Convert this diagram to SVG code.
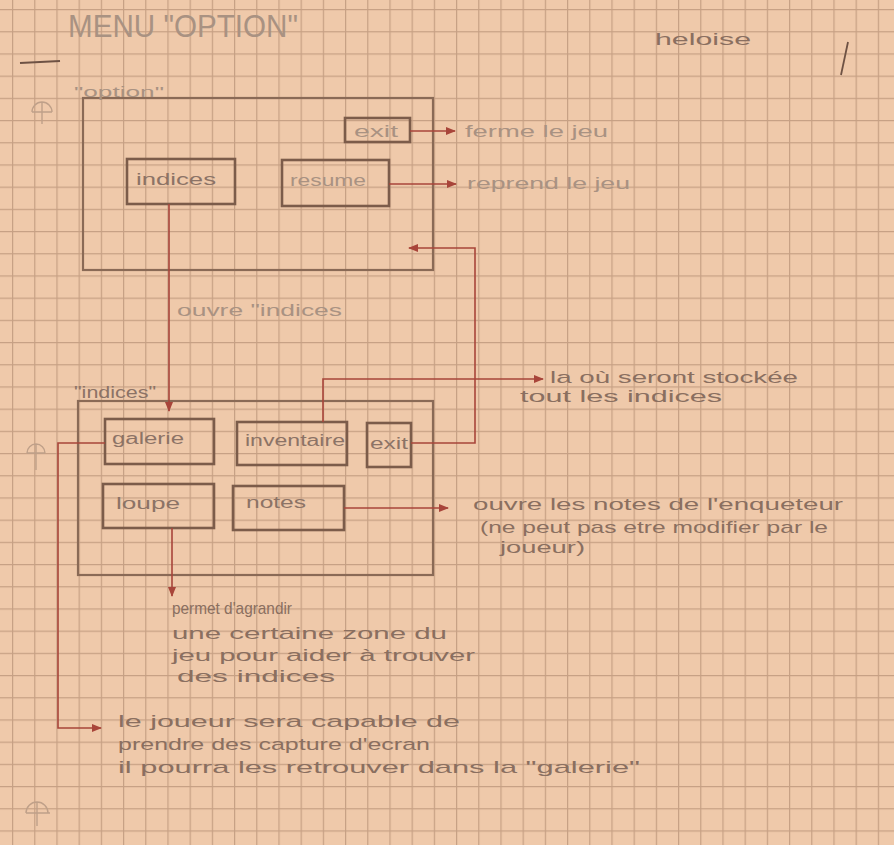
<svg xmlns="http://www.w3.org/2000/svg" width="894" height="845" viewBox="0 0 894 845">
  <defs>
    <pattern id="grid" x="12" y="9" width="22.2" height="22.2" patternUnits="userSpaceOnUse">
      <path d="M0 0.6H22.2M0.6 0V22.2" stroke="#c6a084" stroke-width="1.2" fill="none"/>
    </pattern>
    <marker id="arr" viewBox="0 0 10 10" refX="9" refY="5" markerWidth="10" markerHeight="10" markerUnits="userSpaceOnUse" orient="auto">
      <path d="M0 1L10 5L0 9Z" fill="#a8453a"/>
    </marker>
    <style>
      .box{fill:none;stroke:#7c5c4a;stroke-width:2.6}
      .frame{fill:none;stroke:#8a6a56;stroke-width:2.2}
      .lbl{font-family:"Liberation Sans",Arial,sans-serif;font-size:16px;fill:#8c7366}
      .note{font-family:"Liberation Sans",Arial,sans-serif;font-size:17px;fill:#8a6f60}
      .light{font-family:"Liberation Sans",Arial,sans-serif;fill:#a99282}
      .wire{fill:none;stroke:#a8453a;stroke-width:1.6}
      .hole{fill:none;stroke:#bfa089;stroke-width:1.4}
    </style>
  </defs>

  <rect width="894" height="845" fill="#efc9aa"/>
  <rect width="894" height="845" fill="url(#grid)"/>

  <!-- page marks -->
  <g id="marks">
    <path class="hole" d="M32 112A10 10 0 0 1 52 112M42 102V124M32 112H52"/>
    <path class="hole" d="M27 453A9 9 0 0 1 45 453M36 444V470M27 453H45"/>
    <path class="hole" d="M26 813A11 11 0 0 1 48 813M37 802V826M26 813H50"/>
    <line x1="20" y1="63" x2="60" y2="61" stroke="#6e5244" stroke-width="2"/>
    <line x1="848" y1="42" x2="841" y2="75" stroke="#6e5244" stroke-width="1.8"/>
  </g>

  <!-- title -->
  <g id="title">
    <text class="light" x="68" y="37" font-size="31" textLength="230" lengthAdjust="spacingAndGlyphs">MENU "OPTION"</text>
    <text class="note" x="655" y="45" textLength="96" lengthAdjust="spacingAndGlyphs">heloise</text>
  </g>

  <!-- option frame -->
  <g id="option">
    <rect class="frame" x="83" y="98" width="350" height="172" stroke="#a08472"/>
    <text class="light" x="74" y="97" font-size="15" textLength="90" lengthAdjust="spacingAndGlyphs">"option"</text>
  </g>
  <g id="option-exit">
    <rect class="box" x="345" y="118" width="65" height="24" stroke="#8a6a58"/>
    <text class="light" x="354" y="137" font-size="16" textLength="44" lengthAdjust="spacingAndGlyphs">exit</text>
  </g>
  <g id="option-indices">
    <rect class="box" x="127" y="159" width="108" height="45"/>
    <text class="lbl" x="136" y="185" textLength="80" lengthAdjust="spacingAndGlyphs">indices</text>
  </g>
  <g id="option-resume">
    <rect class="box" x="282" y="160" width="107" height="46"/>
    <text class="light" x="290" y="186" font-size="16" textLength="76" lengthAdjust="spacingAndGlyphs">resume</text>
  </g>

  <!-- indices frame -->
  <g id="indices">
    <rect class="frame" x="78" y="401" width="355" height="174"/>
    <text class="lbl" x="74" y="398" font-size="15" textLength="82" lengthAdjust="spacingAndGlyphs">"indices"</text>
  </g>
  <g id="galerie">
    <rect class="box" x="105" y="419" width="109" height="45"/>
    <text class="lbl" x="112" y="444" textLength="72" lengthAdjust="spacingAndGlyphs">galerie</text>
  </g>
  <g id="inventaire">
    <rect class="box" x="237" y="422" width="110" height="43"/>
    <text class="lbl" x="245" y="446" textLength="100" lengthAdjust="spacingAndGlyphs">inventaire</text>
  </g>
  <g id="indices-exit">
    <rect class="box" x="367" y="423" width="44" height="44"/>
    <text class="lbl" x="370" y="449" font-size="14" textLength="38" lengthAdjust="spacingAndGlyphs">exit</text>
  </g>
  <g id="loupe">
    <rect class="box" x="103" y="484" width="111" height="44"/>
    <text class="lbl" x="116" y="509" textLength="64" lengthAdjust="spacingAndGlyphs">loupe</text>
  </g>
  <g id="notes">
    <rect class="box" x="233" y="486" width="111" height="44"/>
    <text class="lbl" x="246" y="508" textLength="60" lengthAdjust="spacingAndGlyphs">notes</text>
  </g>

  <!-- connectors -->
  <g id="connectors">
    <path class="wire" d="M410 131H455" marker-end="url(#arr)"/>
    <path class="wire" d="M389 184H456" marker-end="url(#arr)"/>
    <path class="wire" d="M169 204V411" marker-end="url(#arr)"/>
    <path class="wire" d="M323 422V379H543" marker-end="url(#arr)"/>
    <path class="wire" d="M411 443H475V248H409" marker-end="url(#arr)"/>
    <path class="wire" d="M344 508H448" marker-end="url(#arr)"/>
    <path class="wire" d="M172 528V596" marker-end="url(#arr)"/>
    <path class="wire" d="M105 443H58V728H101" marker-end="url(#arr)"/>
  </g>

  <!-- annotations -->
  <g id="annotations">
    <text class="light" x="465" y="137" font-size="17" textLength="143" lengthAdjust="spacingAndGlyphs">ferme le jeu</text>
    <text class="light" x="467" y="189" font-size="17" textLength="163" lengthAdjust="spacingAndGlyphs">reprend le jeu</text>
    <text class="light" x="177" y="316" font-size="16" textLength="165" lengthAdjust="spacingAndGlyphs">ouvre "indices</text>
    <text class="note" x="550" y="383" textLength="248" lengthAdjust="spacingAndGlyphs">la où seront stockée</text>
    <text class="note" x="520" y="402" textLength="202" lengthAdjust="spacingAndGlyphs">tout les indices</text>
    <text class="note" x="473" y="510" textLength="370" lengthAdjust="spacingAndGlyphs">ouvre les notes de l'enqueteur</text>
    <text class="note" x="480" y="533" textLength="348" lengthAdjust="spacingAndGlyphs">(ne peut pas etre modifier par le</text>
    <text class="note" x="500" y="553" textLength="85" lengthAdjust="spacingAndGlyphs">joueur)</text>
    <text class="note" x="172" y="614" textLength="120" lengthAdjust="spacingAndGlyphs">permet d'agrandir</text>
    <text class="note" x="172" y="639" textLength="275" lengthAdjust="spacingAndGlyphs">une certaine zone du</text>
    <text class="note" x="172" y="661" textLength="303" lengthAdjust="spacingAndGlyphs">jeu pour aider à trouver</text>
    <text class="note" x="177" y="682" textLength="158" lengthAdjust="spacingAndGlyphs">des indices</text>
    <text class="note" x="118" y="727" textLength="342" lengthAdjust="spacingAndGlyphs">le joueur sera capable de</text>
    <text class="note" x="118" y="750" textLength="312" lengthAdjust="spacingAndGlyphs">prendre des capture d'ecran</text>
    <text class="note" x="118" y="773" textLength="522" lengthAdjust="spacingAndGlyphs">il pourra les retrouver dans la "galerie"</text>
  </g>
</svg>
